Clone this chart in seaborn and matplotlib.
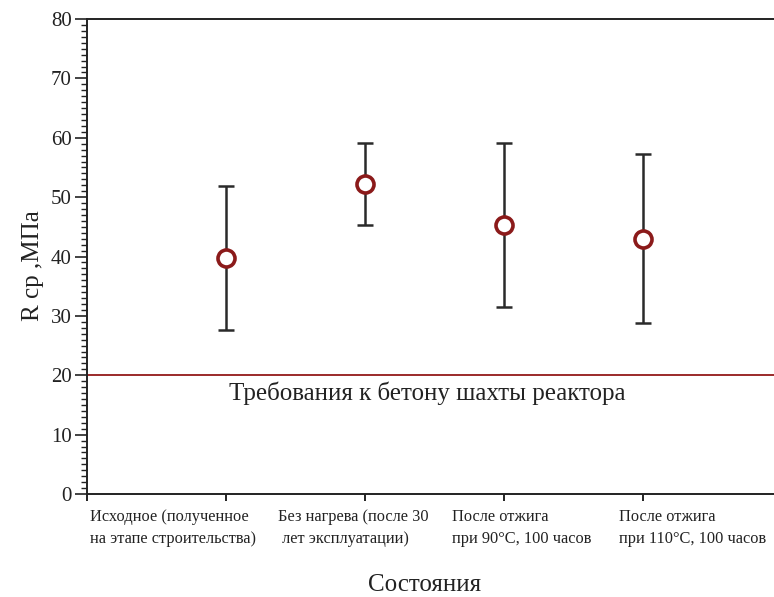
import matplotlib
matplotlib.use("Agg")
import matplotlib.pyplot as plt
import seaborn as sns
import pandas as pd
from matplotlib.ticker import MultipleLocator
from matplotlib.transforms import blended_transform_factory

# Compressive strength of reactor-shaft concrete by condition
states = [
    "Исходное (полученное\nна этапе строительства)",
    "Без нагрева (после 30\n лет эксплуатации)",
    "После отжига\nпри 90°C, 100 часов",
    "После отжига\nпри 110°C, 100 часов",
]
positions = [1, 2, 3, 4]
strength_mean = [39.8, 52.2, 45.3, 43.0]
strength_err = [12.1, 6.9, 13.8, 14.2]
requirement = 20.0
requirement_label = "Требования к бетону шахты реактора"

df = pd.DataFrame({"pos": positions, "R": strength_mean, "err": strength_err})

sns.set_theme(style="ticks")
plt.rcParams["font.family"] = ["Liberation Serif", "DejaVu Serif"]

fig = plt.figure(figsize=(7.74, 5.97), dpi=100)
W, H = 774, 597
ax = fig.add_axes([87 / W, (H - 494) / H, (W - 87) / W, (494 - 19) / H])

dark_red = "#8b1a1a"

# requirement level
ax.axhline(requirement, color="#9b2a2a", lw=1.4, zorder=1)
ax.text(2.45, 17.0, requirement_label, ha="center", va="center",
        fontsize=18, color="#222222")

# error bars
ax.errorbar(df["pos"], df["R"], yerr=df["err"], fmt="none",
            ecolor="#2a2a2a", elinewidth=1.8, capsize=5.5, capthick=1.8,
            zorder=2)

# mean values
sns.scatterplot(data=df, x="pos", y="R", ax=ax, s=150, marker="o",
                facecolor="white", edgecolor=dark_red, linewidth=2.6,
                zorder=3, legend=False)

ax.set_xlim(0, 4.94)
ax.set_ylim(0, 80)
ax.set_xticks([0, 1, 2, 3, 4])
ax.set_xticklabels([])
ax.yaxis.set_major_locator(MultipleLocator(10))
ax.yaxis.set_minor_locator(MultipleLocator(1))
ax.tick_params(axis="y", which="major", direction="out", length=9,
               width=1.2, labelsize=15, colors="#222222", pad=2)
ax.tick_params(axis="y", which="minor", direction="out", length=4,
               width=1.0, colors="#222222")
ax.tick_params(axis="x", which="major", direction="out", length=5,
               width=1.4, colors="#222222")

for side in ("left", "top", "bottom"):
    ax.spines[side].set_color("#222222")
    ax.spines[side].set_linewidth(1.4)
ax.spines["right"].set_visible(False)

ax.set_xlabel("")
ax.set_ylabel("R ср ,МПа", fontsize=18, color="#222222")
ax.yaxis.set_label_coords(-0.063, 0.48)

# condition labels under the axis
label_x = [90, 278, 452, 619]
trans = blended_transform_factory(fig.transFigure, ax.transAxes)
for lx, name in zip(label_x, states):
    ax.text(lx / W, -0.032, name, transform=trans, ha="left", va="top",
            fontsize=11.8, color="#222222", linespacing=1.45)

fig.text(425 / W, 1 - 585 / H, "Состояния", ha="center", va="center",
         fontsize=18, color="#222222")

fig.savefig("out.png", dpi=100)
